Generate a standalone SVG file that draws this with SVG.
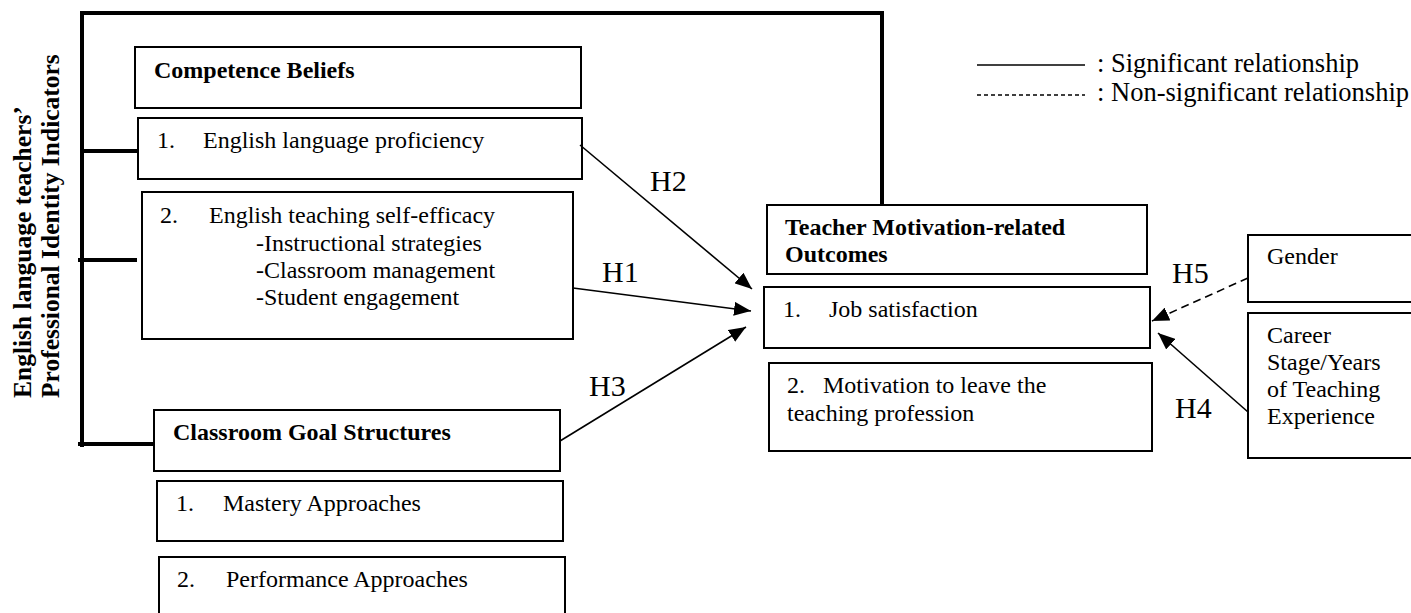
<svg xmlns="http://www.w3.org/2000/svg" width="1411" height="613" viewBox="0 0 1411 613">
<style>
text{font-family:"Liberation Serif","Times New Roman",serif;font-size:24px;fill:#000}
.b{font-weight:bold}
.rot{font-size:25.5px}
.h{font-size:30px}
.lg{font-size:26.5px}
.box{fill:#fff;stroke:#000;stroke-width:2}
.thick{stroke:#000;stroke-width:4;fill:none;stroke-linecap:square}
.conn{stroke:#000;stroke-width:1.6;fill:none}
.dash{stroke-dasharray:8 5}
</style>
<defs>
<marker id="arr" markerUnits="userSpaceOnUse" markerWidth="18" markerHeight="14" refX="17" refY="7" orient="auto">
<path d="M0,0 L17,7 L0,14 z" fill="#000"/>
</marker>
</defs>
<g id="bracket">
<path class="thick" d="M82,445 L82,13 L882,13 L882,205"/>
<line class="thick" x1="82" y1="151" x2="141" y2="151" style="stroke-linecap:butt"/>
<line class="thick" x1="78" y1="260" x2="137" y2="260" style="stroke-linecap:butt"/>
<line class="thick" x1="78" y1="444" x2="153" y2="444" style="stroke-linecap:butt"/>
<text class="b rot" transform="translate(31,398) rotate(-90)">English language teachers’</text>
<text class="b rot" transform="translate(59,398) rotate(-90)">Professional Identity Indicators</text>
</g>
<g id="competence-beliefs">
<rect class="box" x="135" y="47" width="446" height="61"/>
<text class="b" x="154" y="78">Competence Beliefs</text>
</g>
<g id="proficiency">
<rect class="box" x="138" y="118" width="444" height="61"/>
<text x="157" y="148">1.</text>
<text x="203" y="148">English language proficiency</text>
</g>
<g id="self-efficacy">
<rect class="box" x="142" y="192" width="431" height="147"/>
<text x="160" y="223">2.</text>
<text x="209" y="223">English teaching self-efficacy</text>
<text x="256" y="251">-Instructional strategies</text>
<text x="256" y="278">-Classroom management</text>
<text x="256" y="305">-Student engagement</text>
</g>
<g id="goal-structures">
<rect class="box" x="154" y="410" width="406" height="61"/>
<text class="b" x="173" y="440">Classroom Goal Structures</text>
</g>
<g id="mastery">
<rect class="box" x="157" y="481" width="406" height="60"/>
<text x="176" y="511">1.</text>
<text x="223" y="511">Mastery Approaches</text>
</g>
<g id="performance">
<rect class="box" x="159" y="557" width="406" height="70"/>
<text x="177" y="587">2.</text>
<text x="226" y="587">Performance Approaches</text>
</g>
<g id="outcomes">
<rect class="box" x="767" y="205" width="380" height="69"/>
<text class="b" x="785" y="235">Teacher Motivation-related</text>
<text class="b" x="785" y="262">Outcomes</text>
</g>
<g id="job-satisfaction">
<rect class="box" x="764" y="287" width="386" height="61"/>
<text x="783" y="317">1.</text>
<text x="829" y="317">Job satisfaction</text>
</g>
<g id="leave">
<rect class="box" x="769" y="363" width="383" height="88"/>
<text x="787" y="393">2.</text>
<text x="823" y="393">Motivation to leave the</text>
<text x="787" y="421">teaching profession</text>
</g>
<g id="gender">
<rect class="box" x="1248" y="235" width="180" height="67"/>
<text x="1267" y="264">Gender</text>
</g>
<g id="career">
<rect class="box" x="1248" y="313" width="180" height="145"/>
<text x="1267" y="343">Career</text>
<text x="1267" y="370">Stage/Years</text>
<text x="1267" y="397">of Teaching</text>
<text x="1267" y="424">Experience</text>
</g>
<g id="connectors">
<line class="conn" x1="580" y1="145" x2="752" y2="289" marker-end="url(#arr)"/>
<line class="conn" x1="573" y1="288" x2="751" y2="311" marker-end="url(#arr)"/>
<line class="conn" x1="560" y1="441" x2="746" y2="327" marker-end="url(#arr)"/>
<line class="conn dash" x1="1248" y1="278" x2="1152" y2="321" marker-end="url(#arr)"/>
<line class="conn" x1="1248" y1="412" x2="1158" y2="333" marker-end="url(#arr)"/>
<text class="h" x="650" y="191">H2</text>
<text class="h" x="602" y="282">H1</text>
<text class="h" x="589" y="396">H3</text>
<text class="h" x="1172" y="283">H5</text>
<text class="h" x="1175" y="418">H4</text>
</g>
<g id="legend">
<line x1="977" y1="65" x2="1085" y2="65" stroke="#000" stroke-width="1.3"/>
<text class="lg" x="1097" y="72">: Significant relationship</text>
<line x1="977" y1="95" x2="1085" y2="95" stroke="#000" stroke-width="1.3" stroke-dasharray="4 3"/>
<text class="lg" x="1097" y="101">: Non-significant relationship</text>
</g>
</svg>
